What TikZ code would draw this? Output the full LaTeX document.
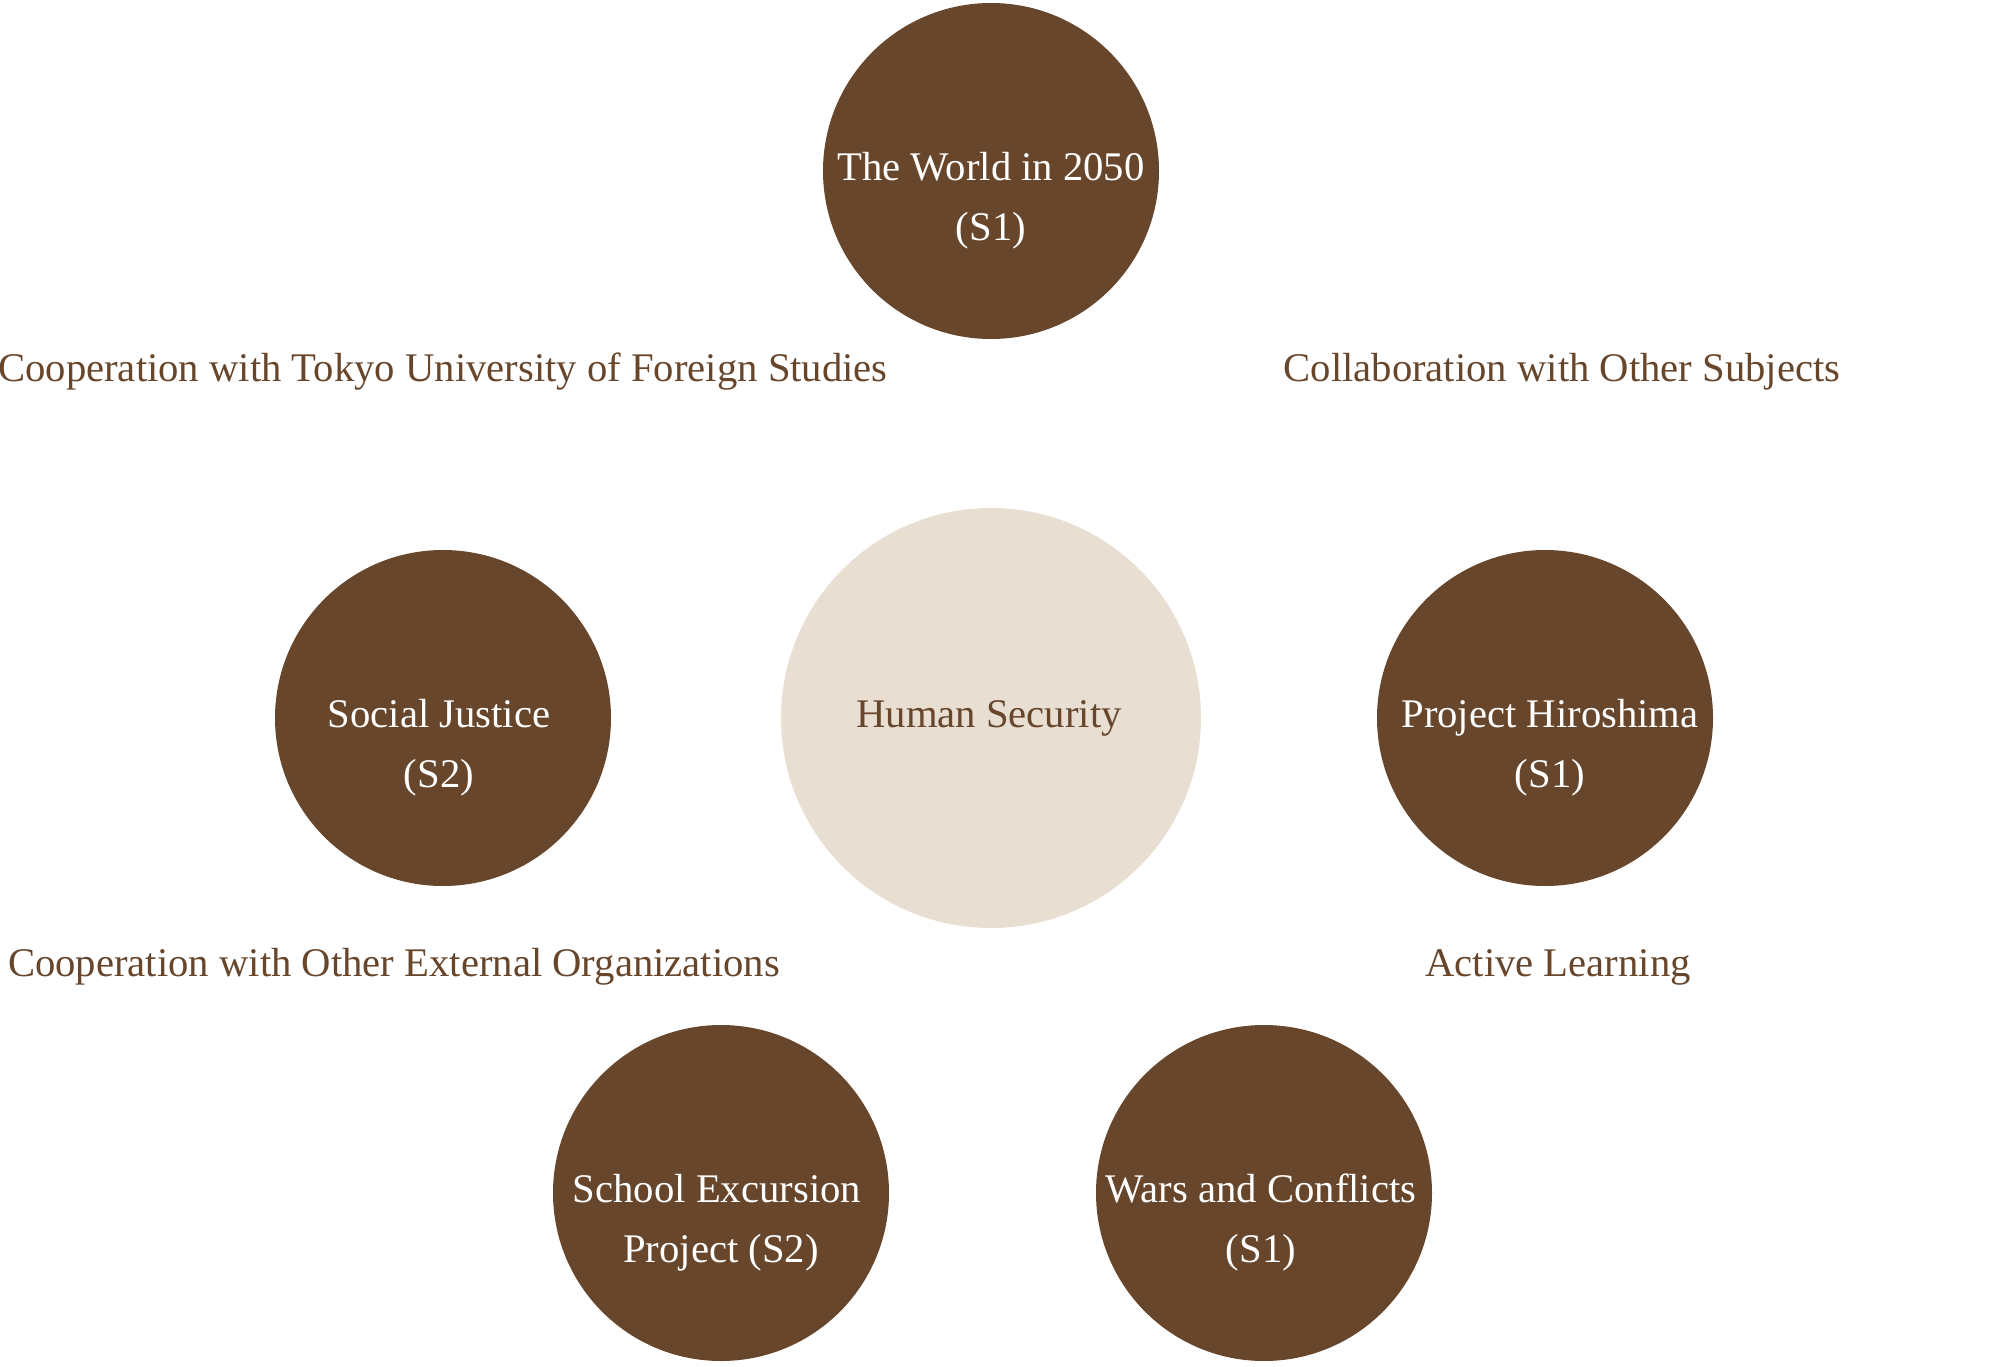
\documentclass[tikz,border=0pt]{standalone}
\usepackage{fontspec}
\setmainfont{Liberation Serif}
\definecolor{brownc}{HTML}{67462B}
\definecolor{beigec}{HTML}{E8DFD2}
\tikzset{
  topic/.style={circle,fill=brownc,draw=none,minimum size=252pt,inner sep=0pt},
  core/.style={circle,fill=beigec,draw=none,minimum size=315pt,inner sep=0pt},
  wtext/.style={text=white,font=\fontsize{30.5}{36}\selectfont,inner sep=0pt,anchor=base},
  btext/.style={text=brownc,font=\fontsize{30.5}{36}\selectfont,inner sep=0pt,anchor=base},
}
\begin{document}
\begin{tikzpicture}[x=0.75pt,y=-0.75pt]
\useasboundingbox (0,0) rectangle (2000,1367);
\node[topic] (world) at (991,171) {};
\node[core] (human) at (991,718) {};
\node[topic] (justice) at (443,718) {};
\node[topic] (hiro) at (1545,718) {};
\node[topic] (school) at (721,1193) {};
\node[topic] (wars) at (1264,1193) {};
% texts
\node[wtext] (world1) at (991,180) {The World in 2050};
\node[wtext] (world2) at (991,240) {(S1)};
\node[btext] (human1) at (989,727) {Human Security};
\node[wtext] (justice1) at (439,727) {Social Justice};
\node[wtext] (justice2) at (439,787) {(S2)};
\node[wtext] (hiro1) at (1550,727) {Project Hiroshima};
\node[wtext] (hiro2) at (1550,787) {(S1)};
\node[wtext] (school1) at (717,1202) {School Excursion};
\node[wtext] (school2) at (721,1262) {Project (S2)};
\node[wtext] (wars1) at (1261,1202) {Wars and Conflicts};
\node[wtext] (wars2) at (1261,1262) {(S1)};
% outer labels
\node[btext] (lab1) at (443,381) {Cooperation with Tokyo University of Foreign Studies};
\node[btext] (lab2) at (1562,381) {Collaboration with Other Subjects};
\node[btext] (lab3) at (394,976) {Cooperation with Other External Organizations};
\node[btext] (lab4) at (1558,976) {Active Learning};
\end{tikzpicture}
\end{document}
